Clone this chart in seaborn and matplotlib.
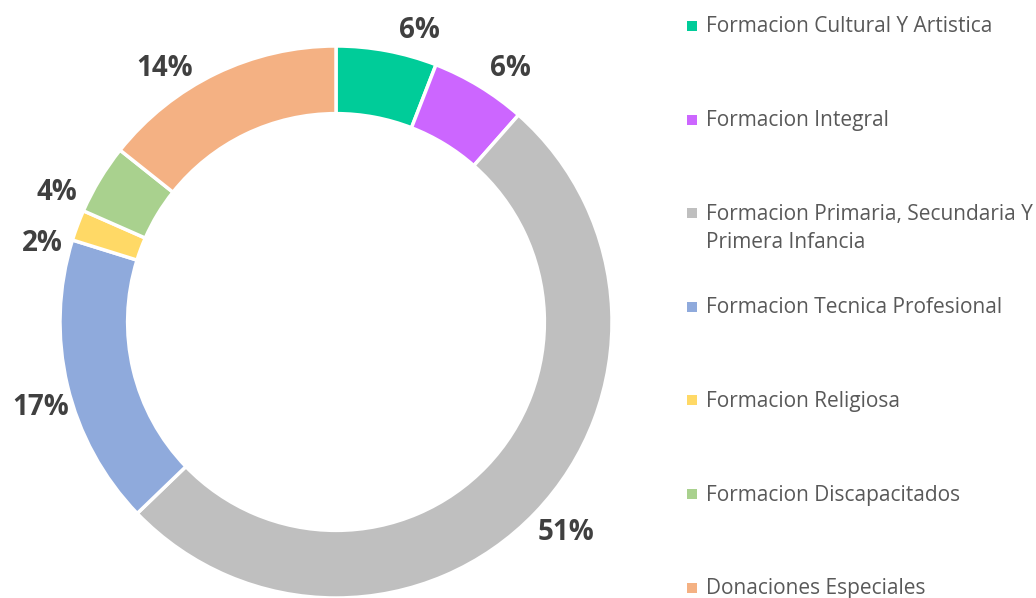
"""Donut chart of resource allocation by formation category."""

import numpy as np
import matplotlib.pyplot as plt
import seaborn as sns
from matplotlib.patches import Rectangle

CATEGORIES = [
    "Formacion Cultural Y Artistica",
    "Formacion Integral",
    "Formacion Primaria, Secundaria Y\nPrimera Infancia",
    "Formacion Tecnica Profesional",
    "Formacion Religiosa",
    "Formacion Discapacitados",
    "Donaciones Especiales",
]
SHARES = [5.9, 5.6, 51.3, 17.0, 1.8, 4.1, 14.3]
COLORS = ["#00CC99", "#CC66FF", "#BFBFBF", "#8FAADC", "#FFD966", "#A9D18E", "#F4B183"]

# label placement, Excel "best fit" style: angle nudge (deg) and distance (x radius)
LABEL_NUDGE = [5.4, 3.1, -1.3, -2.9, -5.5, -6.3, -8.3]
LABEL_DIST = [1.10, 1.115, 1.13, 1.115, 1.10, 1.115, 1.11]

W, H = 1036, 598
CX, CY, R = 336, 322, 276  # donut centre and outer radius, pixels

sns.set_theme(style="white")
plt.rcParams["font.family"] = ["Open Sans", "DejaVu Sans"]

fig = plt.figure(figsize=(W / 100, H / 100), dpi=100)
ax = fig.add_axes([0, 0, 1, 1])

palette = sns.color_palette(COLORS)
wedges, texts, autotexts = ax.pie(
    SHARES,
    colors=palette,
    startangle=90,
    counterclock=False,
    radius=1.0,
    autopct="%.0f%%",
    pctdistance=1.115,
    wedgeprops={"width": 0.245, "edgecolor": "white", "linewidth": 2.5},
    textprops={"fontsize": 20, "fontweight": "bold", "color": "#404040"},
)
for wedge, txt, nudge, dist in zip(wedges, autotexts, LABEL_NUDGE, LABEL_DIST):
    mid = np.deg2rad((wedge.theta1 + wedge.theta2) / 2 - nudge)
    txt.set_position((dist * np.cos(mid), dist * np.sin(mid)))

ax.set_aspect("equal")
ax.set_xlim(-CX / R, (W - CX) / R)
ax.set_ylim(-(H - CY) / R, CY / R)
ax.axis("off")

# legend, drawn by hand so each entry keeps Excel-like spacing
y0, step, line_h = 27, 93.6, 28
for i, (label, color) in enumerate(zip(CATEGORIES, palette)):
    y = y0 + i * step
    fig.patches.append(
        Rectangle((687 / W, 1 - (y + 4) / H), 10 / W, 10 / H,
                  transform=fig.transFigure, facecolor=color, edgecolor="none")
    )
    for j, part in enumerate(label.split("\n")):
        fig.text(706 / W, 1 - (y + j * line_h) / H, part, fontsize=15,
                 color="#595959", ha="left", va="center")

fig.savefig("out.png", dpi=100)
